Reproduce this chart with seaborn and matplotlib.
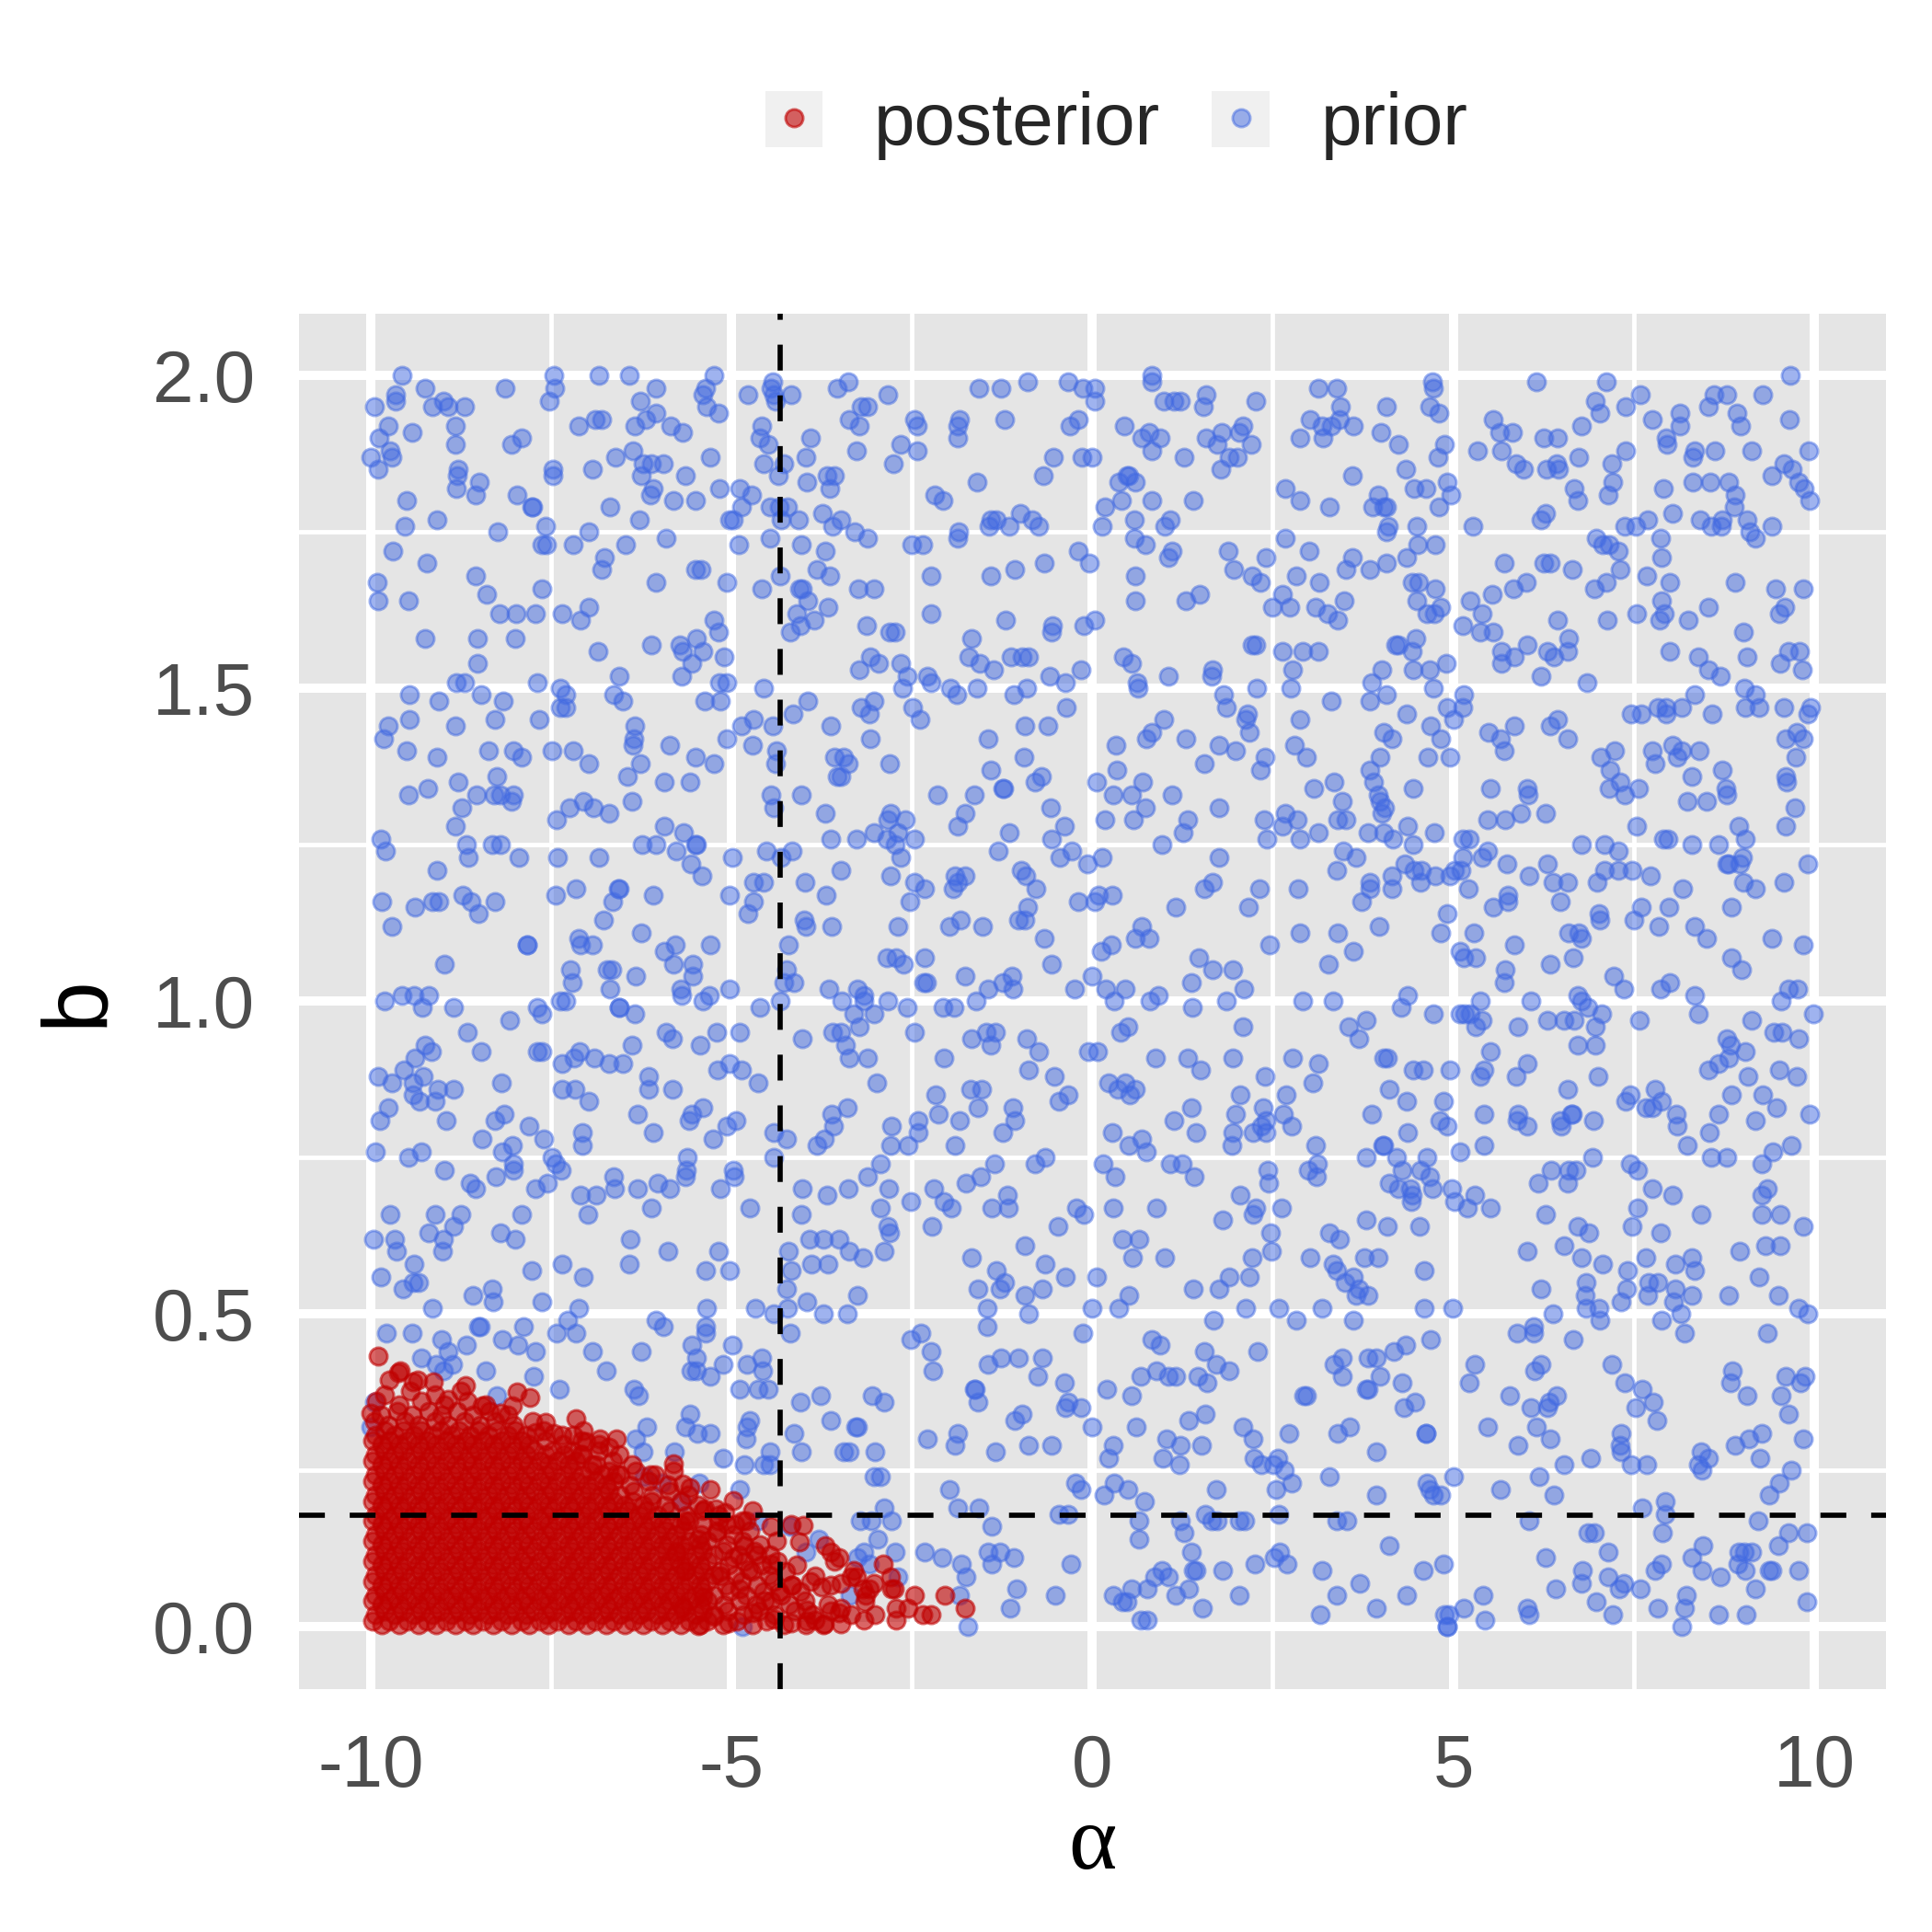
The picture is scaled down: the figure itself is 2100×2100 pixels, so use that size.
import matplotlib
matplotlib.use("Agg")
import matplotlib.pyplot as plt
import pandas as pd
import seaborn as sns
from matplotlib.lines import Line2D
from matplotlib.patches import Patch
from matplotlib.legend_handler import HandlerTuple
from matplotlib.ticker import MultipleLocator

# ---- data ----
# prior draws (alpha, b)
prior_alpha = [
    # top-left block
    -9.56,-8.14,-7.46,-7.45,-7.53,-6.84,-6.42,-6.04,-6.26,-5.24,
    -5.36,-5.39,-5.34,-5.18,-9.65,-9.65,-9.95,-9.25,-9.14,-8.99,
    -8.92,-8.70,-9.75,-9.42,-8.83,-9.88,-9.73,-9.71,-10.0,-9.90,
    -8.82,-8.78,-8.80,-8.49,-8.81,-8.55,-8.05,-7.91,-7.12,-6.89,
    -6.80,-7.47,-7.47,-6.93,-6.61,-6.34,-6.19,-6.04,-5.84,-5.67,
    -6.36,-6.22,-6.11,-5.95,-6.25,-6.09,-6.12,-5.64,-5.29,-5.80,
    -5.50,-5.16,-9.50,-9.52,-9.08,-7.97,-7.77,-7.75,-8.24,-7.58,
    -7.62,-7.56,-7.19,-6.98,-6.68,-6.28,-5.90,-6.46,-6.76,-6.80,
    -9.69,-9.22,-9.91,-9.89,-9.48,-8.54,-8.39,-8.21,-7.98,-7.71,
    -7.63,-7.34,-7.09,-6.98,-6.05,-5.50,-5.42,-5.07,-5.24,-5.18,
    -5.48,-5.72,-5.68,-5.40,-5.10,-6.11,-6.85,-9.24,-8.52,-8.00,
    -8.52,-8.81,-8.70,-7.69,-6.55,-5.55,-5.69,-5.16,-5.07,-9.46,
    -9.06,-8.47,-8.16,-7.37,-7.29,-7.37,-7.30,-6.63,-6.51,-5.37,
    -5.15,-9.75,-9.46,-9.82,-8.83,-8.28,-7.66,-9.50,-9.08,-8.37,
    -8.02,-7.91,-7.48,-7.19,-6.98,-6.34,-6.35,-6.36,-5.86,-6.26,
    -6.44,-5.50,-5.24,-5.07,-8.78,-8.25,-9.21,-5.93,-5.57,-4.77,
    -4.43,-4.45,-4.41,-4.39,-4.17,-3.54,-4.58,-4.61,-4.49,-3.91,
    -4.27,-4.55,-4.35,-3.97,-3.95,-3.68,-3.57,-3.64,-4.89,-4.72,
    -4.86,-4.46,-4.34,-4.22,-4.31,-4.07,-3.74,-3.60,-5.02,-4.98,
    -4.90,-4.47,-4.03,-3.70,-3.81,-3.64,-4.33,-4.58,-4.06,-4.02,
    -3.94,-3.66,-4.10,-4.18,-4.04,-3.85,-4.55,-3.94,-4.15,-4.43,
    -4.86,-4.69,-3.62,-4.71,-4.37,-4.39,-3.57,-3.53,
    # top-middle block
    -3.38,-2.84,-3.20,-3.12,-3.37,-3.23,-3.27,-2.76,-2.66,-2.47,
    -2.43,-2.42,-1.84,-1.86,-1.87,-1.57,-1.26,-0.90,-1.21,-0.34,
    -0.13,0.04,0.03,-0.31,-0.20,-0.54,-0.15,0.00,-0.68,-1.60,
    -2.19,-2.07,-3.49,-3.29,-3.12,-1.40,-1.43,-1.33,-1.15,-1.00,
    -0.83,-0.74,-2.50,-2.35,-1.85,-1.87,-0.19,-0.04,-0.67,-1.07,
    -1.40,-2.23,-3.24,-3.03,-2.23,-1.20,-3.13,-2.81,-2.73,-0.55,
    -0.57,-0.12,0.04,-3.07,-2.96,-3.23,-2.66,-1.67,-1.71,-1.56,
    -1.37,-1.12,-0.97,-0.88,-0.59,-0.16,-0.37,-2.56,-2.29,-2.23,
    -1.97,-1.88,-1.60,-1.09,-0.91,-2.63,-0.36,-3.20,-3.02,-3.09,
    -2.49,-2.39,-3.07,-1.44,-0.93,-0.61,-0.95,-1.41,-3.45,-3.38,
    -2.81,-3.49,-0.79,-0.70,-1.23,0.06,0.82,0.82,0.99,1.13,
    1.22,1.58,1.54,2.26,0.44,0.69,0.79,0.94,0.83,1.27,
    1.58,1.73,1.79,2.08,2.03,2.20,1.78,1.90,2.01,0.48,
    0.50,0.37,0.59,0.40,0.82,1.40,0.18,0.13,0.58,1.08,
    1.00,0.58,0.74,1.10,1.05,0.60,0.59,1.29,1.49,1.88,
    1.96,2.21,2.33,2.40,0.43,0.55,0.62,0.63,1.05,1.66,
    1.65,2.21,2.27,2.28,1.82,1.86,2.15,2.12,2.17,0.99,
    0.82,0.75,1.29,0.33,0.34,0.70,1.55,1.76,1.99,2.39,
    2.33,3.13,3.02,3.18,3.20,2.87,2.67,2.87,2.67,3.00,
    2.82,3.15,2.64,2.74,2.50,3.09,2.63,2.91,3.13,2.78,
    2.75,2.87,2.80,2.97,3.07,
    # top-right block
    3.38,3.44,3.42,3.31,3.62,4.07,4.71,4.72,4.67,4.80,
    4.00,4.24,4.88,4.79,3.60,4.34,4.46,4.62,4.92,4.97,
    4.80,3.29,3.96,3.88,4.03,4.07,4.10,4.08,4.49,4.51,
    4.75,4.36,4.08,3.85,3.60,3.51,3.49,3.26,3.40,4.43,
    4.52,4.75,4.50,4.63,4.74,4.82,4.48,4.20,4.24,4.43,
    4.44,4.67,4.90,4.01,3.87,4.07,3.85,3.31,4.73,4.91,
    5.14,5.13,5.00,4.36,4.03,4.15,4.69,4.82,4.96,4.65,
    3.99,3.85,3.35,3.89,4.45,6.15,7.12,6.97,7.03,7.39,
    5.55,5.64,5.82,5.34,5.67,6.25,6.45,6.77,6.74,7.20,
    7.39,5.87,5.97,6.29,6.43,6.46,6.67,6.72,7.21,7.14,
    5.27,6.22,6.28,6.98,7.07,7.16,7.29,7.38,7.53,5.70,
    6.25,6.34,6.65,7.31,7.12,6.95,5.83,6.01,5.23,5.54,
    5.40,5.13,5.38,5.55,6.44,7.13,6.02,5.67,5.85,5.67,
    6.30,6.40,6.59,6.60,6.21,6.85,5.49,5.65,5.84,5.71,
    6.34,6.45,6.58,7.05,7.23,7.17,7.31,5.52,6.03,7.16,
    7.59,7.76,8.14,8.14,8.53,8.61,8.79,8.93,8.98,9.29,
    9.67,9.66,7.95,7.96,8.34,8.32,8.63,9.14,9.92,9.58,
    9.69,9.41,9.79,9.86,9.94,7.91,8.32,8.56,8.81,8.91,
    8.89,8.04,7.69,8.42,8.57,8.71,8.73,9.07,9.11,9.18,
    9.42,7.87,7.89,7.68,8.00,8.91,9.47,9.85,7.88,7.92,
    7.86,7.54,8.26,8.54,9.52,9.59,9.02,8.00,8.40,9.07,
    8.54,8.70,9.53,9.64,9.80,9.84,8.35,9.03,9.19,9.23,
    9.05,8.59,8.16,7.84,7.95,7.95,7.47,7.60,9.58,9.95,
    9.91,9.76,9.61,9.85,9.74,7.76,8.04,8.16,8.10,7.79,
    8.41,8.73,8.30,9.61,9.62,7.57,8.78,
    # middle-left block
    -9.47,-8.73,-8.53,-8.29,-8.20,-8.02,-8.05,-8.82,-9.86,-9.79,
    -8.67,-8.64,-8.32,-8.20,-7.95,-9.08,-9.85,-9.38,-9.14,-9.05,
    -8.72,-8.61,-8.50,-8.28,-9.71,-7.83,-7.83,-8.98,-9.56,-9.40,
    -9.20,-9.80,-9.28,-8.85,-8.07,-7.69,-7.63,-8.66,-9.25,-9.16,
    -9.38,-8.47,-7.69,-7.62,-9.54,-9.89,-9.71,-9.41,-9.27,-9.07,
    -8.85,-8.19,-9.41,-9.32,-9.11,-9.76,-9.87,-8.95,-8.28,-8.15,
    -8.45,-7.80,-8.04,-8.18,-9.93,-9.48,-9.29,-8.98,-8.62,-8.55,
    -8.26,-8.02,-8.02,-9.73,-9.10,-8.75,-7.91,-7.42,-7.25,-7.05,
    -6.91,-6.69,-6.38,-5.93,-5.66,-6.24,-6.05,-5.76,-5.50,-5.48,
    -7.41,-6.83,-5.56,-5.41,-7.43,-7.16,-6.55,-6.57,-6.65,-6.08,
    -6.77,-6.25,-7.12,-7.09,-6.92,-5.93,-5.78,-5.29,-7.23,-7.21,
    -6.72,-6.66,-6.33,-5.80,-5.54,-5.53,-6.68,-5.70,-5.69,-5.40,
    -5.31,-5.03,-7.37,-7.30,-6.55,-6.55,-6.34,-5.91,-5.82,-5.44,
    -5.20,-4.88,-6.38,-7.10,-7.18,-6.90,-7.34,-6.69,-6.51,-5.19,
    -5.02,-4.86,-6.15,-6.15,-5.81,-7.35,-7.17,-6.98,-5.40,-5.55,
    -5.59,-6.30,-6.09,-7.07,-7.06,-7.60,-7.48,-7.44,-7.36,-5.25,
    -5.07,-4.94,-5.61,-5.64,-5.63,-6.63,-6.62,-6.30,-6.02,-5.86,
    -7.09,-6.87,-7.55,-7.71,-6.99,-6.11,-5.15,-4.98,-4.96,-4.45,
    -4.41,-4.03,-3.70,-3.63,-4.99,-4.52,-4.31,-4.16,-5.02,-4.70,
    -4.56,-4.70,-4.77,-3.98,-3.69,-4.00,-3.97,-3.61,-4.21,-4.24,
    -4.28,-4.14,-3.65,-4.33,-4.61,-4.02,-3.60,-4.63,-3.61,-3.59,
    -3.71,-3.81,-4.41,-4.23,-4.41,-4.02,-3.67,-4.74,-4.03,
    # centre block
    -2.15,-1.63,-1.24,-0.58,0.29,0.55,0.74,1.11,1.76,0.17,
    0.57,1.32,1.26,0.97,2.38,2.63,2.67,2.84,2.87,3.13,
    2.42,-3.03,-2.85,-2.83,-2.79,-2.69,-2.59,-2.73,-2.66,-3.27,
    -2.47,-3.49,-2.79,-2.47,-2.32,-2.53,-1.86,-1.76,-1.15,-0.56,
    -0.39,-1.31,-0.28,-0.45,-0.07,0.14,-0.98,-0.92,-0.78,-1.90,
    -1.86,-1.76,-1.93,-0.19,0.04,0.09,0.28,-0.90,-1.98,-1.83,
    -1.52,-1.03,-0.93,-2.69,-0.67,0.26,0.12,-2.85,-2.72,-2.62,
    -2.32,-0.56,-2.34,-2.30,-1.76,-1.44,-1.24,-1.11,-1.10,-0.25,
    0.00,0.19,0.45,-3.25,-3.16,-3.16,-3.47,-2.84,-2.57,-2.07,
    -1.91,-1.61,-3.31,-3.03,-3.23,-3.49,-3.42,-3.37,-3.11,-2.46,
    -1.67,-1.47,-1.34,-1.40,-0.91,-0.74,-2.05,-0.89,-0.53,-0.05,
    0.07,0.30,0.39,0.49,0.80,0.91,1.38,1.37,1.48,1.67,
    1.94,2.10,1.86,2.09,0.59,0.69,0.78,1.15,1.55,1.66,
    1.75,2.32,2.16,2.85,2.87,2.46,2.91,0.87,1.32,1.50,
    1.94,2.77,3.13,2.39,3.06,0.23,0.45,0.35,0.60,0.52,
    -0.46,-0.33,-1.69,-1.53,-2.17,-1.59,-1.10,-2.99,-3.39,-2.13,
    -1.84,-1.07,-1.24,-2.78,-2.41,-2.41,-2.80,-2.55,-1.90,2.05,
    2.36,2.69,1.98,2.41,2.34,2.23,2.40,2.65,2.76,1.94,
    1.93,1.37,1.13,1.44,0.27,0.50,0.69,0.75,3.09,3.12,
    2.99,3.11,2.43,2.44,1.08,1.24,1.41,0.15,0.32,-0.79,
    -0.65,-1.35,-1.55,-1.75,-2.20,-2.93,-3.12,-2.82,-3.38,-2.93,
    -2.52,-2.06,-1.95,-1.18,-1.16,-1.39,-0.22,-0.12,0.29,0.89,
    2.05,2.27,2.23,2.62,
    # middle-right block
    3.46,3.40,3.51,3.96,3.98,4.05,4.01,3.82,4.03,4.16,
    4.37,4.45,4.74,3.48,3.65,3.39,4.33,4.46,4.56,4.75,
    4.55,4.15,4.15,3.84,3.85,3.73,4.96,5.02,5.11,5.13,
    5.21,4.91,4.82,3.40,3.97,3.61,3.27,3.33,4.37,4.28,
    4.73,5.13,5.22,5.47,5.72,5.94,6.04,6.28,7.38,5.47,
    5.40,5.74,6.05,6.30,6.38,6.59,6.78,7.10,7.28,7.09,
    7.29,7.48,6.99,7.54,5.76,5.76,5.55,6.48,7.02,7.03,
    7.50,7.60,7.73,5.29,5.85,6.60,6.74,6.77,6.66,5.09,
    5.14,5.31,6.34,5.72,5.71,7.22,7.36,6.08,6.72,6.78,
    6.86,7.06,5.38,5.09,5.16,5.23,5.40,5.31,5.90,6.30,
    6.54,6.67,6.97,6.73,6.97,7.58,7.91,7.97,8.24,8.51,
    8.79,8.30,8.68,8.81,8.79,8.97,9.01,9.02,9.19,8.95,
    9.05,9.60,9.73,9.91,9.58,8.18,7.99,7.85,8.34,8.51,
    8.85,9.41,9.85,8.86,8.99,7.87,8.00,8.34,8.39,9.54,
    9.64,9.77,9.99,9.14,9.44,9.55,9.78,8.79,8.84,8.81,
    9.05,8.67,8.54,9.08,9.52,9.76,8.86,9.29,9.48,9.94,
    7.80,7.45,7.39,7.67,7.76,7.88,8.09,8.10,8.68,8.55,
    9.19,8.24,8.57,8.79,9.43,9.68,9.27,9.35,9.28,9.53,
    9.28,7.45,7.56,7.76,8.04,7.56,8.43,7.01,6.59,6.94,
    6.65,6.64,6.48,6.50,5.90,5.89,6.02,5.42,5.42,5.09,
    6.03,5.87,5.52,4.96,5.37,5.42,6.93,6.35,6.18,6.60,
    6.70,6.58,6.28,5.30,5.19,5.52,4.98,5.02,3.55,3.69,
    3.80,4.04,4.09,4.44,4.59,4.11,4.36,4.87,3.87,4.81,
    4.91,4.37,4.02,4.03,3.80,4.21,4.64,4.29,4.54,4.67,
    4.11,4.24,4.41,4.43,4.42,4.71,
    # bottom-middle block
    -2.83,-2.81,-2.22,-0.47,1.80,-3.51,-3.37,-3.18,-2.88,-3.26,
    -3.40,-0.94,-1.67,-1.33,-1.22,-1.28,-1.59,-1.46,-1.46,-0.93,
    -0.89,-0.69,-0.65,-0.38,0.06,0.00,0.41,0.64,0.56,1.00,
    0.51,0.36,1.40,1.76,1.89,2.17,2.21,2.47,2.48,2.13,
    2.58,3.02,3.18,2.83,1.68,2.29,-2.52,-2.38,-2.23,-2.21,
    -0.13,0.83,0.94,1.55,-1.45,-1.26,-1.02,-0.69,-0.75,-0.39,
    -1.62,-1.58,-1.63,-3.05,-2.88,-0.97,-1.07,-0.34,-0.38,-0.16,
    -0.01,0.20,0.54,0.67,0.89,1.05,1.15,1.46,1.59,1.71,
    1.90,2.93,2.96,1.33,1.56,0.61,1.03,1.22,1.51,0.98,
    1.21,2.09,2.22,2.72,2.24,2.34,2.57,2.51,2.66,2.76,
    2.55,1.71,-3.28,-3.26,-3.45,-3.37,-3.01,-2.28,-1.87,-1.90,
    -1.34,-0.89,-0.56,0.29,0.23,-3.02,-2.93,-1.98,-1.87,-1.57,
    -2.88,-0.24,-0.16,0.30,0.49,0.72,0.16,-0.33,-0.46,0.65,
    0.65,1.22,1.56,1.65,1.73,2.03,2.11,2.58,-3.22,-3.06,
    -2.78,-1.39,1.27,1.37,1.40,1.43,1.81,2.25,2.52,2.60,
    2.70,3.18,2.03,3.16,1.53,1.33,1.15,1.05,0.97,0.86,
    0.76,0.54,0.29,0.42,0.48,0.67,0.76,-0.30,-0.52,-1.05,
    -1.14,-1.09,-1.44,-1.28,-1.39,-2.33,-2.08,-1.82,-1.75,-1.84,
    -1.73,-2.73,-2.98,-3.25,-3.16,-3.09,-2.70,-3.36,
    # bottom-right block
    3.79,4.09,4.53,3.29,3.43,3.33,3.39,3.62,3.50,3.69,
    3.65,3.82,3.77,3.96,4.60,4.60,4.99,3.61,4.68,4.34,
    4.17,3.46,3.35,3.82,3.94,3.46,3.99,4.29,3.80,3.82,
    4.32,4.47,3.40,3.57,4.62,4.62,3.94,3.29,3.94,4.64,
    4.67,4.72,4.82,5.00,3.39,3.53,4.11,4.59,4.86,3.70,
    3.38,4.35,3.93,4.88,4.94,4.91,4.92,5.15,5.41,5.44,
    6.02,6.53,6.72,6.88,6.78,7.07,6.21,6.38,6.84,6.83,
    6.84,7.02,7.03,7.33,7.40,7.41,7.48,5.89,6.11,6.11,
    6.66,5.30,5.22,6.12,6.21,7.20,7.37,5.78,6.07,6.30,
    6.33,6.43,6.15,5.48,6.34,5.90,6.53,6.90,7.33,7.31,
    7.33,7.46,6.19,6.40,5.66,6.05,6.86,6.95,6.28,7.15,
    6.79,6.77,7.15,7.36,7.30,6.42,6.98,7.21,6.03,6.05,
    7.67,7.87,8.08,8.30,8.34,7.71,7.83,7.69,8.08,8.05,
    8.30,8.15,7.88,8.20,8.82,8.97,9.23,9.32,9.53,9.85,
    9.51,9.78,9.91,9.35,8.87,8.84,9.07,9.61,9.81,9.87,
    9.54,9.65,7.62,7.77,7.53,7.82,8.91,9.10,9.27,9.85,
    9.25,8.43,8.39,8.54,8.45,7.68,9.68,9.52,9.38,7.62,
    7.94,7.93,7.90,9.22,9.64,9.90,8.46,8.30,7.89,7.80,
    8.44,8.70,8.96,9.03,9.13,8.94,9.05,9.38,9.41,9.51,
    9.79,9.18,9.90,7.59,8.23,8.21,7.84,8.16,8.68,9.06,
    # bottom-left block
    -9.96,-9.67,-9.64,-9.86,-9.40,-9.41,-9.33,-9.55,-9.20,-8.99,
    -8.85,-9.00,-9.14,-8.58,-8.31,-8.30,-8.20,-7.99,-7.77,-7.62,
    -7.35,-7.05,-7.11,-7.27,-7.16,-7.42,-6.40,-6.42,-5.88,-5.18,
    -5.36,-5.02,-5.34,-5.36,-5.36,-6.05,-5.95,-5.55,-4.99,-5.49,
    -5.56,-5.49,-5.30,-5.12,-4.78,-4.58,-4.57,-4.88,-4.63,-4.49,
    -4.67,-4.41,-4.22,-4.24,-4.19,-4.21,-4.17,-3.89,-3.66,-3.92,
    -3.72,-3.95,-3.72,-4.05,-3.77,-3.62,-4.13,-4.03,-5.57,-5.64,
    -5.47,-5.29,-4.79,-4.75,-4.80,-4.46,-4.55,-4.47,-4.82,-5.11,
    -5.79,-6.17,-6.33,-6.23,-6.25,-6.35,-6.29,-6.73,-6.93,-7.38,
    -7.72,-7.74,-7.88,-7.96,-8.17,-8.40,-8.25,-8.50,-8.48,-8.67,
    -9.01,-8.92,-8.86,-9.09,-9.30,-8.99,-9.42,-9.78,-10.0,-9.94,
    -5.45,-4.89,-6.21,-5.97,-5.69,-4.63,-4.19,-3.79,-3.97,-4.85,
]
prior_b = [
    # top-left block
    2.00,1.98,2.00,1.98,1.96,2.00,2.00,1.98,1.96,2.00,
    1.98,1.97,1.95,1.94,1.97,1.96,1.95,1.98,1.95,1.96,
    1.95,1.95,1.92,1.91,1.92,1.90,1.88,1.87,1.87,1.85,
    1.89,1.85,1.84,1.83,1.82,1.81,1.89,1.90,1.92,1.93,
    1.93,1.85,1.84,1.85,1.87,1.92,1.93,1.94,1.92,1.91,
    1.88,1.86,1.86,1.86,1.84,1.82,1.81,1.84,1.87,1.80,
    1.80,1.82,1.80,1.76,1.77,1.81,1.79,1.79,1.75,1.76,
    1.73,1.73,1.73,1.75,1.79,1.77,1.74,1.73,1.71,1.69,
    1.72,1.70,1.67,1.64,1.64,1.68,1.65,1.62,1.62,1.62,
    1.66,1.62,1.61,1.63,1.67,1.69,1.69,1.67,1.61,1.59,
    1.58,1.57,1.56,1.56,1.55,1.57,1.56,1.58,1.58,1.58,
    1.54,1.51,1.51,1.51,1.52,1.54,1.52,1.51,1.51,1.49,
    1.48,1.49,1.48,1.50,1.49,1.47,1.47,1.49,1.48,1.48,
    1.48,1.44,1.45,1.42,1.44,1.45,1.45,1.40,1.39,1.40,
    1.40,1.39,1.40,1.40,1.38,1.44,1.42,1.41,1.41,1.38,
    1.36,1.39,1.38,1.42,1.35,1.36,1.34,1.35,1.35,1.97,
    1.99,1.98,1.97,1.96,1.97,1.98,1.92,1.90,1.89,1.90,
    1.86,1.86,1.84,1.87,1.83,1.84,1.84,1.82,1.82,1.81,
    1.79,1.79,1.79,1.79,1.77,1.77,1.78,1.76,1.77,1.77,
    1.73,1.74,1.73,1.72,1.69,1.68,1.68,1.66,1.66,1.66,
    1.64,1.63,1.62,1.59,1.60,1.61,1.50,1.48,1.46,1.44,
    1.44,1.45,1.44,1.41,1.40,1.38,1.39,1.36,
    # top-middle block
    1.99,1.97,1.95,1.95,1.93,1.92,1.88,1.86,1.89,1.93,
    1.92,1.88,1.93,1.92,1.90,1.98,1.98,1.99,1.93,1.99,
    1.98,1.98,1.96,1.92,1.93,1.87,1.87,1.87,1.84,1.83,
    1.81,1.80,1.77,1.75,1.74,1.77,1.76,1.77,1.76,1.78,
    1.77,1.76,1.73,1.73,1.75,1.74,1.72,1.70,1.70,1.69,
    1.68,1.68,1.66,1.66,1.62,1.61,1.60,1.59,1.59,1.60,
    1.59,1.60,1.61,1.55,1.54,1.53,1.54,1.58,1.55,1.54,
    1.53,1.55,1.55,1.55,1.52,1.53,1.51,1.52,1.52,1.51,
    1.50,1.49,1.50,1.49,1.50,1.50,1.47,1.47,1.48,1.46,
    1.47,1.45,1.42,1.42,1.44,1.44,1.39,1.37,1.39,1.38,
    1.38,1.36,1.35,1.36,1.34,1.35,2.00,1.99,1.96,1.96,
    1.96,1.97,1.95,1.96,1.92,1.90,1.91,1.90,1.88,1.87,
    1.90,1.89,1.91,1.92,1.91,1.89,1.85,1.87,1.87,1.84,
    1.84,1.83,1.83,1.80,1.80,1.80,1.79,1.76,1.77,1.77,
    1.76,1.74,1.73,1.72,1.71,1.68,1.64,1.64,1.65,1.72,
    1.69,1.68,1.67,1.71,1.55,1.54,1.51,1.50,1.52,1.53,
    1.52,1.57,1.57,1.50,1.49,1.47,1.46,1.45,1.43,1.45,
    1.43,1.42,1.42,1.41,1.37,1.35,1.38,1.41,1.40,1.39,
    1.37,1.98,1.93,1.92,1.90,1.90,1.82,1.80,1.74,1.72,
    1.68,1.67,1.65,1.63,1.63,1.63,1.56,1.56,1.56,1.53,
    1.50,1.45,1.41,1.39,1.34,
    # top-right block
    1.98,1.95,1.93,1.92,1.92,1.95,1.99,1.98,1.95,1.94,
    1.91,1.89,1.89,1.87,1.84,1.85,1.82,1.82,1.83,1.81,
    1.79,1.79,1.81,1.79,1.79,1.79,1.76,1.75,1.76,1.73,
    1.73,1.71,1.70,1.69,1.71,1.69,1.64,1.62,1.61,1.67,
    1.67,1.66,1.64,1.62,1.62,1.63,1.58,1.57,1.57,1.56,
    1.53,1.53,1.54,1.53,1.51,1.49,1.48,1.48,1.50,1.47,
    1.49,1.47,1.45,1.46,1.43,1.42,1.44,1.42,1.39,1.39,
    1.39,1.37,1.35,1.35,1.34,1.99,1.99,1.96,1.94,1.95,
    1.93,1.91,1.91,1.88,1.88,1.90,1.90,1.92,1.87,1.86,
    1.88,1.86,1.85,1.85,1.86,1.85,1.82,1.80,1.83,1.81,
    1.76,1.77,1.78,1.74,1.73,1.73,1.72,1.76,1.76,1.70,
    1.70,1.70,1.69,1.69,1.67,1.66,1.66,1.67,1.64,1.65,
    1.62,1.60,1.59,1.59,1.61,1.61,1.57,1.56,1.55,1.54,
    1.56,1.55,1.56,1.58,1.52,1.51,1.43,1.42,1.44,1.40,
    1.44,1.45,1.42,1.39,1.40,1.37,1.35,1.34,1.34,1.34,
    1.97,1.93,1.94,1.92,1.95,1.97,1.97,1.94,1.92,1.97,
    2.00,1.93,1.90,1.89,1.88,1.87,1.88,1.88,1.88,1.86,
    1.85,1.84,1.83,1.82,1.80,1.82,1.83,1.83,1.83,1.81,
    1.79,1.78,1.77,1.77,1.76,1.76,1.77,1.77,1.75,1.74,
    1.76,1.74,1.71,1.68,1.67,1.67,1.66,1.66,1.64,1.62,
    1.61,1.62,1.61,1.63,1.62,1.63,1.59,1.56,1.55,1.55,
    1.53,1.52,1.54,1.56,1.56,1.53,1.49,1.50,1.49,1.47,
    1.47,1.46,1.47,1.47,1.47,1.46,1.46,1.46,1.47,1.47,
    1.46,1.43,1.42,1.42,1.39,1.40,1.41,1.40,1.39,1.38,
    1.40,1.37,1.36,1.36,1.35,1.34,1.34,
    # middle-left block
    1.33,1.31,1.33,1.33,1.33,1.33,1.32,1.28,1.26,1.24,
    1.25,1.23,1.25,1.25,1.23,1.21,1.16,1.15,1.16,1.16,
    1.17,1.16,1.14,1.16,1.12,1.09,1.09,1.06,1.01,1.01,
    1.01,1.00,0.99,0.99,0.97,0.99,0.98,0.95,0.93,0.92,
    0.91,0.92,0.92,0.92,0.89,0.88,0.87,0.87,0.88,0.86,
    0.86,0.87,0.85,0.84,0.84,0.83,0.81,0.81,0.81,0.82,
    0.78,0.80,0.77,0.76,0.76,0.75,0.76,0.73,0.71,0.70,
    0.72,0.74,0.73,0.66,0.66,0.66,0.66,1.29,1.31,1.32,
    1.31,1.30,1.32,1.28,1.27,1.25,1.25,1.24,1.25,1.25,
    1.23,1.23,1.22,1.20,1.17,1.18,1.18,1.18,1.16,1.17,
    1.13,1.11,1.10,1.09,1.09,1.08,1.09,1.09,1.05,1.03,
    1.05,1.05,1.04,1.06,1.06,1.04,1.02,1.02,1.01,1.00,
    1.01,1.02,1.00,1.00,0.99,0.99,0.98,0.95,0.94,0.93,
    0.95,0.95,0.93,0.92,0.91,0.91,0.90,0.90,0.90,0.89,
    0.90,0.89,0.88,0.86,0.86,0.86,0.86,0.84,0.83,0.82,
    0.81,0.82,0.79,0.79,0.77,0.78,0.75,0.74,0.73,0.78,
    0.80,0.81,0.75,0.72,0.73,0.72,0.70,0.70,0.71,0.70,
    0.69,0.69,0.71,0.70,0.66,0.67,0.70,0.73,0.72,1.33,
    1.31,1.33,1.30,1.26,1.23,1.24,1.23,1.24,1.17,1.19,
    1.19,1.16,1.14,1.19,1.17,1.13,1.12,1.12,1.09,1.05,
    1.03,1.03,1.02,1.00,0.99,0.94,0.95,0.87,0.82,0.80,
    0.78,0.77,0.79,0.78,0.75,0.70,0.69,0.67,0.66,
    # centre block
    1.33,1.33,1.34,1.31,1.33,1.33,1.31,1.33,1.31,1.29,
    1.29,1.29,1.27,1.25,1.29,1.28,1.30,1.29,1.26,1.27,
    1.26,1.27,1.26,1.29,1.30,1.27,1.29,1.25,1.23,1.26,
    1.26,1.21,1.20,1.19,1.18,1.16,1.28,1.30,1.27,1.26,
    1.28,1.24,1.24,1.23,1.22,1.23,1.21,1.20,1.18,1.20,
    1.19,1.20,1.18,1.16,1.16,1.17,1.17,1.15,1.12,1.13,
    1.12,1.13,1.13,1.12,1.10,1.09,1.08,1.07,1.07,1.06,
    1.07,1.06,1.03,1.03,1.04,1.02,1.03,1.04,1.02,1.02,
    1.04,1.02,1.02,1.02,1.01,1.00,1.00,1.00,0.99,0.99,
    0.99,1.00,0.98,0.98,0.96,0.95,0.93,0.91,0.91,0.95,
    0.94,0.95,0.95,0.93,0.94,0.92,0.91,0.89,0.88,0.92,
    0.92,1.00,0.95,0.96,1.00,1.01,0.99,1.03,1.07,1.05,
    1.05,1.02,1.00,0.96,1.10,1.12,1.10,1.15,1.18,1.19,
    1.23,1.18,1.15,1.18,1.11,1.09,1.00,0.91,0.91,0.89,
    0.91,0.91,0.90,0.88,0.87,0.87,0.87,0.86,0.86,0.85,
    0.84,0.85,0.86,0.86,0.85,0.83,0.83,0.87,0.83,0.82,
    0.81,0.81,0.79,0.80,0.81,0.79,0.77,0.77,0.77,0.85,
    0.83,0.85,0.82,0.81,0.80,0.79,0.79,0.82,0.80,0.79,
    0.77,0.83,0.81,0.79,0.79,0.77,0.78,0.76,0.77,0.74,
    0.73,0.72,0.73,0.71,0.74,0.74,0.72,0.74,0.72,0.74,
    0.75,0.74,0.72,0.71,0.70,0.74,0.72,0.70,0.70,0.67,
    0.68,0.68,0.67,0.69,0.67,0.67,0.67,0.66,0.67,0.67,
    0.69,0.67,0.66,0.67,
    # middle-right block
    1.32,1.29,1.29,1.33,1.32,1.31,1.30,1.27,1.27,1.26,
    1.28,1.25,1.27,1.24,1.23,1.21,1.22,1.21,1.21,1.20,
    1.19,1.20,1.18,1.19,1.18,1.16,1.20,1.21,1.21,1.23,
    1.18,1.14,1.11,1.11,1.12,1.08,1.06,1.00,1.01,0.99,
    0.98,1.26,1.26,1.29,1.29,1.30,1.33,1.30,1.33,1.24,
    1.23,1.22,1.20,1.22,1.19,1.19,1.25,1.25,1.24,1.21,
    1.21,1.21,1.19,1.28,1.17,1.16,1.15,1.16,1.14,1.13,
    1.13,1.15,1.20,1.11,1.09,1.11,1.11,1.10,1.07,1.08,
    1.07,1.07,1.06,1.05,1.03,1.04,1.02,1.00,1.01,1.00,
    0.99,0.98,1.00,0.98,0.98,0.98,0.97,0.96,0.96,0.97,
    0.97,0.97,0.96,0.93,0.93,0.97,1.26,1.26,1.32,1.32,
    1.33,1.25,1.25,1.22,1.22,1.22,1.23,1.19,1.18,1.28,
    1.26,1.28,1.31,1.22,1.19,1.18,1.15,1.12,1.12,1.10,
    1.15,1.10,1.09,1.07,1.05,1.02,1.03,1.01,0.98,1.00,
    1.02,1.02,0.98,0.97,0.95,0.95,0.94,0.94,0.93,0.91,
    0.92,0.90,0.89,0.88,0.89,0.88,0.85,0.85,0.83,0.82,
    0.86,0.85,0.84,0.83,0.83,0.84,0.82,0.80,0.82,0.79,
    0.81,0.77,0.75,0.75,0.76,0.77,0.74,0.70,0.69,0.66,
    0.66,0.74,0.73,0.70,0.69,0.67,0.66,0.88,0.86,0.81,
    0.82,0.82,0.81,0.80,0.82,0.81,0.80,0.82,0.77,0.76,
    0.90,0.88,0.92,0.89,0.88,0.89,0.75,0.73,0.71,0.73,
    0.73,0.71,0.66,0.69,0.67,0.67,0.70,0.68,0.96,0.94,
    0.97,0.91,0.91,0.89,0.89,0.86,0.84,0.84,0.82,0.81,
    0.80,0.79,0.77,0.77,0.75,0.75,0.75,0.73,0.73,0.72,
    0.71,0.70,0.70,0.69,0.68,0.70,
    # bottom-middle block
    0.64,0.63,0.64,0.64,0.65,0.62,0.60,0.59,0.60,0.53,
    0.50,0.61,0.59,0.57,0.55,0.54,0.54,0.51,0.48,0.53,
    0.50,0.54,0.58,0.56,0.56,0.51,0.62,0.62,0.59,0.59,
    0.53,0.51,0.54,0.54,0.56,0.56,0.59,0.63,0.60,0.51,
    0.51,0.59,0.51,0.49,0.49,0.44,0.46,0.47,0.44,0.41,
    0.47,0.46,0.45,0.44,0.42,0.43,0.43,0.43,0.40,0.39,
    0.38,0.36,0.38,0.37,0.36,0.34,0.33,0.36,0.35,0.35,
    0.32,0.38,0.37,0.40,0.41,0.40,0.40,0.40,0.39,0.42,
    0.41,0.37,0.37,0.33,0.34,0.32,0.30,0.29,0.29,0.27,
    0.26,0.32,0.30,0.31,0.27,0.26,0.27,0.26,0.25,0.23,
    0.22,0.22,0.32,0.32,0.28,0.28,0.28,0.30,0.31,0.29,
    0.28,0.29,0.29,0.29,0.27,0.24,0.24,0.22,0.19,0.19,
    0.19,0.23,0.22,0.23,0.22,0.20,0.21,0.18,0.18,0.17,
    0.14,0.17,0.18,0.17,0.17,0.17,0.17,0.18,0.17,0.17,
    0.17,0.16,0.15,0.12,0.09,0.09,0.09,0.10,0.11,0.12,
    0.10,0.09,0.05,0.02,0.03,0.06,0.05,0.08,0.09,0.08,
    0.06,0.06,0.05,0.04,0.04,0.01,0.01,0.10,0.05,0.06,
    0.03,0.11,0.12,0.12,0.10,0.12,0.11,0.10,0.08,0.05,
    0.00,0.12,0.14,0.11,0.12,0.10,0.08,0.05,
    # bottom-right block
    0.65,0.64,0.64,0.63,0.62,0.58,0.57,0.56,0.55,0.54,
    0.53,0.53,0.59,0.59,0.57,0.51,0.51,0.49,0.46,0.45,
    0.44,0.43,0.42,0.43,0.43,0.40,0.40,0.39,0.38,0.38,
    0.35,0.36,0.31,0.32,0.31,0.31,0.28,0.24,0.21,0.23,
    0.22,0.21,0.21,0.24,0.17,0.17,0.13,0.09,0.10,0.07,
    0.05,0.05,0.03,0.02,0.02,0.00,0.00,0.03,0.05,0.01,
    0.60,0.61,0.64,0.63,0.59,0.58,0.54,0.50,0.55,0.53,
    0.51,0.51,0.49,0.52,0.54,0.57,0.64,0.47,0.48,0.47,
    0.46,0.42,0.39,0.41,0.42,0.42,0.39,0.37,0.35,0.35,
    0.36,0.37,0.32,0.32,0.30,0.29,0.26,0.27,0.31,0.29,
    0.28,0.26,0.24,0.21,0.22,0.17,0.15,0.15,0.11,0.12,
    0.09,0.07,0.08,0.07,0.06,0.06,0.04,0.02,0.03,0.02,
    0.59,0.63,0.58,0.59,0.57,0.55,0.55,0.53,0.54,0.52,
    0.53,0.50,0.49,0.47,0.53,0.60,0.56,0.61,0.61,0.64,
    0.53,0.51,0.50,0.47,0.41,0.39,0.37,0.40,0.39,0.40,
    0.37,0.34,0.38,0.36,0.35,0.33,0.29,0.30,0.31,0.30,
    0.27,0.28,0.26,0.27,0.25,0.26,0.25,0.23,0.21,0.19,
    0.20,0.18,0.15,0.17,0.15,0.15,0.13,0.11,0.10,0.09,
    0.09,0.08,0.12,0.12,0.12,0.10,0.09,0.09,0.09,0.13,
    0.09,0.06,0.04,0.06,0.05,0.03,0.03,0.00,0.02,0.02,
    # bottom-left block
    0.62,0.62,0.60,0.56,0.58,0.55,0.55,0.54,0.63,0.62,
    0.64,0.60,0.51,0.53,0.54,0.52,0.63,0.62,0.57,0.52,
    0.58,0.56,0.51,0.49,0.47,0.47,0.62,0.58,0.60,0.60,
    0.57,0.57,0.51,0.48,0.47,0.49,0.48,0.45,0.45,0.43,
    0.41,0.41,0.40,0.42,0.42,0.43,0.41,0.38,0.38,0.38,
    0.51,0.50,0.51,0.54,0.47,0.60,0.57,0.58,0.58,0.62,
    0.62,0.52,0.50,0.36,0.37,0.33,0.31,0.28,0.34,0.32,
    0.31,0.31,0.32,0.33,0.30,0.28,0.26,0.26,0.26,0.27,
    0.28,0.32,0.30,0.28,0.44,0.38,0.37,0.41,0.44,0.38,
    0.44,0.40,0.48,0.45,0.46,0.41,0.37,0.48,0.48,0.45,
    0.46,0.44,0.42,0.42,0.43,0.41,0.47,0.47,0.32,0.36,
    0.23,0.22,0.24,0.23,0.20,0.17,0.16,0.14,0.12,0.00,
]

# posterior draws (alpha, b): outline points, the thin tail, then the dense core row by row
posterior_alpha = [
    -9.90,-9.59,-9.61,-9.74,-9.41,-9.35,-9.13,-8.69,-7.97,-7.79,
    -10.00,-8.45,-8.93,-8.20,-8.03,-7.57,-7.16,-7.46,-7.72,-7.19,
    -7.02,-6.82,-6.59,-6.69,-6.87,-7.09,-5.80,-6.60,-6.12,-5.68,
    -5.57,-5.29,-4.98,-5.37,-5.22,-5.09,-4.71,-4.85,-5.06,-4.45,
    -4.17,-4.01,-4.06,-3.70,-3.62,-3.57,-3.84,-3.75,-3.62,-3.95,
    -3.62,-3.51,-3.84,-3.71,-3.97,-4.17,-4.41,-4.54,-4.34,-4.17,
    -4.45,-4.65,-4.82,-4.76,-4.89,-4.71,-5.04,-5.24,-5.46,-5.39,
    -5.15,-4.98,-5.46,-5.20,-5.64,-5.77,-5.64,-5.68,
    -3.51,-3.31,-3.27,-3.34,-3.49,-3.18,-3.09,-3.03,-3.14,-2.90,
    -2.79,-2.74,-2.78,-3.15,-2.72,-2.55,-2.47,-2.04,-2.35,-2.23,
    -1.76,-3.01,-3.17,-2.72,-3.34,-3.49,-3.48,
    # b ~ 0.006
    -9.97,-9.85,-9.74,-9.60,-9.49,-9.34,-9.22,-9.09,-8.95,-8.83,
    -8.69,-8.58,-8.44,-8.30,-8.19,-8.05,-7.91,-7.80,-7.65,-7.54,
    -7.41,-7.26,-7.15,-7.00,-6.89,-6.74,-6.63,-6.48,-6.37,-6.22,
    -6.11,-5.96,-5.85,-5.70,-5.59,-5.44,-5.33,
    -5.12,-4.93,-4.71,-4.52,-4.28,-3.95,-3.72,
    # b ~ 0.022
    -9.93,-9.80,-9.66,-9.55,-9.40,-9.29,-9.14,-9.03,-8.88,-8.77,
    -8.62,-8.51,-8.36,-8.25,-8.10,-7.99,-7.84,-7.73,-7.58,-7.47,
    -7.32,-7.21,-7.06,-6.95,-6.80,-6.69,-6.54,-6.43,-6.28,-6.17,
    -6.02,-5.91,-5.76,-5.65,-5.50,-5.39,-5.24,
    -5.05,-4.84,-4.62,-4.40,-4.12,-3.88,
    # b ~ 0.038
    -9.97,-9.85,-9.74,-9.60,-9.49,-9.34,-9.22,-9.09,-8.95,-8.83,
    -8.69,-8.58,-8.44,-8.30,-8.19,-8.05,-7.91,-7.80,-7.65,-7.54,
    -7.41,-7.26,-7.15,-7.00,-6.89,-6.74,-6.63,-6.48,-6.37,-6.22,
    -6.11,-5.96,-5.85,-5.70,-5.59,-5.44,-5.33,
    -5.10,-4.88,-4.66,-4.45,-4.20,-3.98,-3.66,
    # b ~ 0.054
    -9.93,-9.80,-9.66,-9.55,-9.40,-9.29,-9.14,-9.03,-8.88,-8.77,
    -8.62,-8.51,-8.36,-8.25,-8.10,-7.99,-7.84,-7.73,-7.58,-7.47,
    -7.32,-7.21,-7.06,-6.95,-6.80,-6.69,-6.54,-6.43,-6.28,-6.17,
    -6.02,-5.91,-5.76,-5.65,-5.50,-5.39,-5.24,
    -5.02,-4.80,-4.55,-4.31,-4.05,
    # b ~ 0.070
    -9.97,-9.85,-9.74,-9.60,-9.49,-9.34,-9.22,-9.09,-8.95,-8.83,
    -8.69,-8.58,-8.44,-8.30,-8.19,-8.05,-7.91,-7.80,-7.65,-7.54,
    -7.41,-7.26,-7.15,-7.00,-6.89,-6.74,-6.63,-6.48,-6.37,-6.22,
    -6.11,-5.96,-5.85,-5.70,-5.59,-5.44,-5.33,
    -5.08,-4.86,-4.64,-4.42,-4.16,-3.90,
    # b ~ 0.086
    -9.93,-9.80,-9.66,-9.55,-9.40,-9.29,-9.14,-9.03,-8.88,-8.77,
    -8.62,-8.51,-8.36,-8.25,-8.10,-7.99,-7.84,-7.73,-7.58,-7.47,
    -7.32,-7.21,-7.06,-6.95,-6.80,-6.69,-6.54,-6.43,-6.28,-6.17,
    -6.02,-5.91,-5.76,-5.65,-5.50,-5.39,-5.24,
    -5.15,-4.95,-4.72,-4.48,-4.25,
    # b ~ 0.102
    -9.97,-9.85,-9.74,-9.60,-9.49,-9.34,-9.22,-9.09,-8.95,-8.83,
    -8.69,-8.58,-8.44,-8.30,-8.19,-8.05,-7.91,-7.80,-7.65,-7.54,
    -7.41,-7.26,-7.15,-7.00,-6.89,-6.74,-6.63,-6.48,-6.37,-6.22,
    -6.11,-5.96,-5.85,-5.70,-5.59,-5.44,-5.33,
    -5.04,-4.82,-4.58,-4.36,-4.10,
    # b ~ 0.118
    -9.93,-9.80,-9.66,-9.55,-9.40,-9.29,-9.14,-9.03,-8.88,-8.77,
    -8.62,-8.51,-8.36,-8.25,-8.10,-7.99,-7.84,-7.73,-7.58,-7.47,
    -7.32,-7.21,-7.06,-6.95,-6.80,-6.69,-6.54,-6.43,-6.28,-6.17,
    -6.02,-5.91,-5.76,-5.65,-5.50,-5.39,-5.24,
    -5.11,-4.90,-4.68,-4.47,
    # b ~ 0.134
    -9.97,-9.85,-9.74,-9.60,-9.49,-9.34,-9.22,-9.09,-8.95,-8.83,
    -8.69,-8.58,-8.44,-8.30,-8.19,-8.05,-7.91,-7.80,-7.65,-7.54,
    -7.41,-7.26,-7.15,-7.00,-6.89,-6.74,-6.63,-6.48,-6.37,-6.22,
    -6.11,-5.96,-5.85,-5.70,-5.59,-5.44,-5.33,
    -5.06,-4.85,-4.60,-4.38,
    # b ~ 0.150
    -9.93,-9.80,-9.66,-9.55,-9.40,-9.29,-9.14,-9.03,-8.88,-8.77,
    -8.62,-8.51,-8.36,-8.25,-8.10,-7.99,-7.84,-7.73,-7.58,-7.47,
    -7.32,-7.21,-7.06,-6.95,-6.80,-6.69,-6.54,-6.43,-6.28,-6.17,
    -6.02,-5.91,-5.76,-5.65,
    -5.42,-5.20,-4.98,-4.75,
    # b ~ 0.166
    -9.97,-9.85,-9.74,-9.60,-9.49,-9.34,-9.22,-9.09,-8.95,-8.83,
    -8.69,-8.58,-8.44,-8.30,-8.19,-8.05,-7.91,-7.80,-7.65,-7.54,
    -7.41,-7.26,-7.15,-7.00,-6.89,-6.74,-6.63,-6.48,-6.37,-6.22,
    -6.11,-5.96,-5.85,-5.70,-5.59,
    -5.40,-5.18,-4.95,-4.80,
    # b ~ 0.182
    -9.93,-9.80,-9.66,-9.55,-9.40,-9.29,-9.14,-9.03,-8.88,-8.77,
    -8.62,-8.51,-8.36,-8.25,-8.10,-7.99,-7.84,-7.73,-7.58,-7.47,
    -7.32,-7.21,-7.06,-6.95,-6.80,-6.69,-6.54,-6.43,-6.28,-6.17,
    -6.02,
    -5.85,-5.62,-5.40,-5.18,
    # b ~ 0.198
    -9.97,-9.85,-9.74,-9.60,-9.49,-9.34,-9.22,-9.09,-8.95,-8.83,
    -8.69,-8.58,-8.44,-8.30,-8.19,-8.05,-7.91,-7.80,-7.65,-7.54,
    -7.41,-7.26,-7.15,-7.00,-6.89,-6.74,-6.63,-6.48,-6.37,-6.22,
    -6.11,
    -5.92,-5.70,-5.46,
    # b ~ 0.214
    -9.93,-9.80,-9.66,-9.55,-9.40,-9.29,-9.14,-9.03,-8.88,-8.77,
    -8.62,-8.51,-8.36,-8.25,-8.10,-7.99,-7.84,-7.73,-7.58,-7.47,
    -7.32,-7.21,-7.06,-6.95,-6.80,-6.69,-6.54,
    -6.35,-6.10,-5.85,-5.60,
    # b ~ 0.230
    -9.97,-9.85,-9.74,-9.60,-9.49,-9.34,-9.22,-9.09,-8.95,-8.83,
    -8.69,-8.58,-8.44,-8.30,-8.19,-8.05,-7.91,-7.80,-7.65,-7.54,
    -7.41,-7.26,-7.15,-7.00,-6.89,-6.74,-6.63,
    -6.40,-6.15,-5.88,
    # b ~ 0.246
    -9.93,-9.80,-9.66,-9.55,-9.40,-9.29,-9.14,-9.03,-8.88,-8.77,
    -8.62,-8.51,-8.36,-8.25,-8.10,-7.99,-7.84,-7.73,-7.58,-7.47,
    -7.32,-7.21,-7.06,-6.95,-6.80,-6.69,-6.54,
    -6.32,-6.06,-5.80,
    # b ~ 0.262
    -9.97,-9.85,-9.74,-9.60,-9.49,-9.34,-9.22,-9.09,-8.95,-8.83,
    -8.69,-8.58,-8.44,-8.30,-8.19,-8.05,-7.91,-7.80,-7.65,-7.54,
    -7.41,-7.26,-7.15,
    -6.92,-6.65,-6.38,
    # b ~ 0.278
    -9.93,-9.80,-9.66,-9.55,-9.40,-9.29,-9.14,-9.03,-8.88,-8.77,
    -8.62,-8.51,-8.36,-8.25,-8.10,-7.99,-7.84,-7.73,-7.58,-7.47,
    -7.32,-7.21,-7.06,
    -6.83,-6.56,
    # b ~ 0.294
    -9.97,-9.85,-9.74,-9.60,-9.49,-9.34,-9.22,-9.09,-8.95,-8.83,
    -8.69,-8.58,-8.44,-8.30,-8.19,-8.05,-7.91,-7.80,
    -7.58,-7.33,-7.08,-6.84,
    # b ~ 0.310
    -9.93,-9.80,-9.66,-9.55,-9.40,-9.29,-9.14,-9.03,-8.88,-8.77,
    -8.62,-8.51,-8.36,-8.25,-8.10,-7.99,-7.84,
    -7.60,-7.34,-7.05,
    # b ~ 0.326 .. 0.374
    -9.95,-9.75,-9.52,-9.33,-9.10,-8.92,-8.70,-8.48,-8.27,-8.02,-7.75,
    -9.86,-9.63,-9.42,-9.20,-9.01,-8.80,-8.58,-8.35,-8.10,
    -9.92,-9.60,-9.30,-8.98,-8.66,-8.40,
    -9.80,-9.45,-9.10,-8.75,
]
posterior_b = [
    0.433,0.410,0.407,0.395,0.392,0.394,0.392,0.386,0.375,0.366,
    0.342,0.353,0.363,0.341,0.353,0.327,0.333,0.310,0.311,0.306,
    0.296,0.301,0.300,0.287,0.260,0.275,0.261,0.245,0.243,0.228,
    0.223,0.219,0.202,0.189,0.189,0.183,0.185,0.169,0.164,0.160,
    0.163,0.162,0.136,0.130,0.120,0.105,0.081,0.064,0.066,0.027,
    0.025,0.022,0.010,0.005,0.003,0.007,0.012,0.042,0.056,0.066,
    0.100,0.115,0.130,0.091,0.061,0.022,0.007,0.017,0.002,0.047,
    0.081,0.110,0.140,0.150,0.170,0.120,0.090,0.032,
    0.11,0.09,0.08,0.08,0.07,0.06,0.06,0.07,0.05,0.10,
    0.08,0.06,0.06,0.04,0.03,0.03,0.05,0.05,0.02,0.02,
    0.03,0.02,0.01,0.01,0.02,0.03,0.005,
    # b ~ 0.006 (44)
    0.009,0.003,0.009,0.003,0.009,0.003,0.009,0.003,0.009,0.003,
    0.009,0.003,0.009,0.003,0.009,0.003,0.009,0.003,0.009,0.003,
    0.009,0.003,0.009,0.003,0.009,0.003,0.009,0.003,0.009,0.003,
    0.009,0.003,0.009,0.003,0.009,0.003,0.009,0.003,0.009,0.003,
    0.009,0.003,0.009,0.003,
    # b ~ 0.022 (43)
    0.019,0.025,0.019,0.025,0.019,0.025,0.019,0.025,0.019,0.025,
    0.019,0.025,0.019,0.025,0.019,0.025,0.019,0.025,0.019,0.025,
    0.019,0.025,0.019,0.025,0.019,0.025,0.019,0.025,0.019,0.025,
    0.019,0.025,0.019,0.025,0.019,0.025,0.019,0.025,0.019,0.025,
    0.019,0.025,0.019,
    # b ~ 0.038 (44)
    0.041,0.035,0.041,0.035,0.041,0.035,0.041,0.035,0.041,0.035,
    0.041,0.035,0.041,0.035,0.041,0.035,0.041,0.035,0.041,0.035,
    0.041,0.035,0.041,0.035,0.041,0.035,0.041,0.035,0.041,0.035,
    0.041,0.035,0.041,0.035,0.041,0.035,0.041,0.035,0.041,0.035,
    0.041,0.035,0.041,0.035,
    # b ~ 0.054 (42)
    0.051,0.057,0.051,0.057,0.051,0.057,0.051,0.057,0.051,0.057,
    0.051,0.057,0.051,0.057,0.051,0.057,0.051,0.057,0.051,0.057,
    0.051,0.057,0.051,0.057,0.051,0.057,0.051,0.057,0.051,0.057,
    0.051,0.057,0.051,0.057,0.051,0.057,0.051,0.057,0.051,0.057,
    0.051,0.057,
    # b ~ 0.070 (43)
    0.073,0.067,0.073,0.067,0.073,0.067,0.073,0.067,0.073,0.067,
    0.073,0.067,0.073,0.067,0.073,0.067,0.073,0.067,0.073,0.067,
    0.073,0.067,0.073,0.067,0.073,0.067,0.073,0.067,0.073,0.067,
    0.073,0.067,0.073,0.067,0.073,0.067,0.073,0.067,0.073,0.067,
    0.073,0.067,0.073,
    # b ~ 0.086 (42)
    0.083,0.089,0.083,0.089,0.083,0.089,0.083,0.089,0.083,0.089,
    0.083,0.089,0.083,0.089,0.083,0.089,0.083,0.089,0.083,0.089,
    0.083,0.089,0.083,0.089,0.083,0.089,0.083,0.089,0.083,0.089,
    0.083,0.089,0.083,0.089,0.083,0.089,0.083,0.089,0.083,0.089,
    0.083,0.089,
    # b ~ 0.102 (42)
    0.105,0.099,0.105,0.099,0.105,0.099,0.105,0.099,0.105,0.099,
    0.105,0.099,0.105,0.099,0.105,0.099,0.105,0.099,0.105,0.099,
    0.105,0.099,0.105,0.099,0.105,0.099,0.105,0.099,0.105,0.099,
    0.105,0.099,0.105,0.099,0.105,0.099,0.105,0.099,0.105,0.099,
    0.105,0.099,
    # b ~ 0.118 (41)
    0.115,0.121,0.115,0.121,0.115,0.121,0.115,0.121,0.115,0.121,
    0.115,0.121,0.115,0.121,0.115,0.121,0.115,0.121,0.115,0.121,
    0.115,0.121,0.115,0.121,0.115,0.121,0.115,0.121,0.115,0.121,
    0.115,0.121,0.115,0.121,0.115,0.121,0.115,0.121,0.115,0.121,
    0.115,
    # b ~ 0.134 (41)
    0.137,0.131,0.137,0.131,0.137,0.131,0.137,0.131,0.137,0.131,
    0.137,0.131,0.137,0.131,0.137,0.131,0.137,0.131,0.137,0.131,
    0.137,0.131,0.137,0.131,0.137,0.131,0.137,0.131,0.137,0.131,
    0.137,0.131,0.137,0.131,0.137,0.131,0.137,0.131,0.137,0.131,
    0.137,
    # b ~ 0.150 (38)
    0.147,0.153,0.147,0.153,0.147,0.153,0.147,0.153,0.147,0.153,
    0.147,0.153,0.147,0.153,0.147,0.153,0.147,0.153,0.147,0.153,
    0.147,0.153,0.147,0.153,0.147,0.153,0.147,0.153,0.147,0.153,
    0.147,0.153,0.147,0.153,0.147,0.153,0.147,0.153,
    # b ~ 0.166 (39)
    0.169,0.163,0.169,0.163,0.169,0.163,0.169,0.163,0.169,0.163,
    0.169,0.163,0.169,0.163,0.169,0.163,0.169,0.163,0.169,0.163,
    0.169,0.163,0.169,0.163,0.169,0.163,0.169,0.163,0.169,0.163,
    0.169,0.163,0.169,0.163,0.169,0.163,0.169,0.163,0.169,
    # b ~ 0.182 (35)
    0.179,0.185,0.179,0.185,0.179,0.185,0.179,0.185,0.179,0.185,
    0.179,0.185,0.179,0.185,0.179,0.185,0.179,0.185,0.179,0.185,
    0.179,0.185,0.179,0.185,0.179,0.185,0.179,0.185,0.179,0.185,
    0.179,0.185,0.179,0.185,0.179,
    # b ~ 0.198 (34)
    0.201,0.195,0.201,0.195,0.201,0.195,0.201,0.195,0.201,0.195,
    0.201,0.195,0.201,0.195,0.201,0.195,0.201,0.195,0.201,0.195,
    0.201,0.195,0.201,0.195,0.201,0.195,0.201,0.195,0.201,0.195,
    0.201,0.195,0.201,0.195,
    # b ~ 0.214 (31)
    0.211,0.217,0.211,0.217,0.211,0.217,0.211,0.217,0.211,0.217,
    0.211,0.217,0.211,0.217,0.211,0.217,0.211,0.217,0.211,0.217,
    0.211,0.217,0.211,0.217,0.211,0.217,0.211,0.217,0.211,0.217,
    0.211,
    # b ~ 0.230 (30)
    0.233,0.227,0.233,0.227,0.233,0.227,0.233,0.227,0.233,0.227,
    0.233,0.227,0.233,0.227,0.233,0.227,0.233,0.227,0.233,0.227,
    0.233,0.227,0.233,0.227,0.233,0.227,0.233,0.227,0.233,0.227,
    # b ~ 0.246 (30)
    0.243,0.249,0.243,0.249,0.243,0.249,0.243,0.249,0.243,0.249,
    0.243,0.249,0.243,0.249,0.243,0.249,0.243,0.249,0.243,0.249,
    0.243,0.249,0.243,0.249,0.243,0.249,0.243,0.249,0.243,0.249,
    # b ~ 0.262 (26)
    0.265,0.259,0.265,0.259,0.265,0.259,0.265,0.259,0.265,0.259,
    0.265,0.259,0.265,0.259,0.265,0.259,0.265,0.259,0.265,0.259,
    0.265,0.259,0.265,0.259,0.265,0.259,
    # b ~ 0.278 (25)
    0.275,0.281,0.275,0.281,0.275,0.281,0.275,0.281,0.275,0.281,
    0.275,0.281,0.275,0.281,0.275,0.281,0.275,0.281,0.275,0.281,
    0.275,0.281,0.275,0.281,0.275,
    # b ~ 0.294 (22)
    0.297,0.291,0.297,0.291,0.297,0.291,0.297,0.291,0.297,0.291,
    0.297,0.291,0.297,0.291,0.297,0.291,0.297,0.291,0.297,0.291,
    0.297,0.291,
    # b ~ 0.310 (20)
    0.307,0.313,0.307,0.313,0.307,0.313,0.307,0.313,0.307,0.313,
    0.307,0.313,0.307,0.313,0.307,0.313,0.307,0.313,0.307,0.313,
    # b ~ 0.326 .. 0.374
    0.329,0.323,0.329,0.323,0.329,0.323,0.329,0.323,0.329,0.323,0.329,
    0.339,0.345,0.339,0.345,0.339,0.345,0.339,0.345,0.339,
    0.361,0.355,0.361,0.355,0.361,0.355,
    0.371,0.377,0.371,0.377,
]

alpha_ref = -4.33   # vertical dashed line
b_ref = 0.178       # horizontal dashed line

x_ticks = [-10, -5, 0, 5, 10]
x_tick_labels = ["-10", "-5", "0", "5", "10"]
y_ticks = [0.0, 0.5, 1.0, 1.5, 2.0]
y_tick_labels = ["0.0", "0.5", "1.0", "1.5", "2.0"]
groups = ["posterior", "prior"]

colors = {"posterior": "#C00000", "prior": "#4169E1"}
opacity = {"posterior": 0.6, "prior": 0.5}
point_size = 21

n_prior = min(len(prior_alpha), len(prior_b))
n_post = min(len(posterior_alpha), len(posterior_b))
df = pd.DataFrame({
    "alpha": prior_alpha[:n_prior] + posterior_alpha[:n_post],
    "b": prior_b[:n_prior] + posterior_b[:n_post],
    "sample": ["prior"] * n_prior + ["posterior"] * n_post,
})

sns.set_theme(style="darkgrid", rc={"axes.facecolor": "#E5E5E5", "grid.color": "white"})
plt.rcParams["font.family"] = ["Liberation Sans", "DejaVu Sans"]
plt.rcParams["axes.unicode_minus"] = False

fig = plt.figure(figsize=(7, 7), dpi=300)
ax = fig.add_axes([0.1548, 0.1259, 0.8212, 0.7117])

# prior first, posterior on top
for name in ["prior", "posterior"]:
    sns.scatterplot(
        data=df[df["sample"] == name],
        x="alpha", y="b",
        color=colors[name],
        alpha=opacity[name],
        s=point_size,
        edgecolor=colors[name],
        linewidth=0.7,
        legend=False,
        ax=ax,
    )

ax.axvline(alpha_ref, color="black", linewidth=1.35, linestyle=(0, (5, 4.8)), zorder=3)
ax.axhline(b_ref, color="black", linewidth=1.35, linestyle=(0, (5, 4.8)), zorder=3)

ax.set_xlim(-10.99, 10.99)
ax.set_ylim(-0.099, 2.099)
ax.set_xticks(x_ticks)
ax.set_xticklabels(x_tick_labels)
ax.set_yticks(y_ticks)
ax.set_yticklabels(y_tick_labels)
ax.xaxis.set_minor_locator(MultipleLocator(2.5))
ax.yaxis.set_minor_locator(MultipleLocator(0.25))
ax.grid(True, which="major", color="white", linewidth=2.4)
ax.grid(True, which="minor", color="white", linewidth=1.15)
ax.set_axisbelow(True)
for spine in ax.spines.values():
    spine.set_visible(False)

ax.tick_params(axis="both", which="major", direction="out", length=6, width=2.4,
               color="#333333", labelsize=19.2, labelcolor="#4D4D4D", pad=5.5)
ax.tick_params(axis="both", which="minor", length=0)

ax.set_xlabel("α", fontsize=24, color="black", family=["Liberation Serif", "DejaVu Serif"])
ax.xaxis.set_label_coords(0.5, -0.115)
ax.xaxis.label.set_verticalalignment("center")
ax.set_ylabel("b", fontsize=24, color="black")
ax.yaxis.set_label_coords(-0.139, 0.5)
ax.yaxis.label.set_verticalalignment("center")
ax.yaxis.label.set_horizontalalignment("center")

# legend: grey key squares with a dot, like the reference
key_face = "#F0F0F0"
handles = []
for name in groups:
    dot = Line2D([], [], linestyle="", marker="o", markersize=point_size ** 0.5,
                 markerfacecolor=colors[name], markeredgecolor=colors[name],
                 markeredgewidth=0.7, alpha=opacity[name])
    handles.append((Patch(facecolor=key_face, edgecolor="none"), dot))
fig.legend(handles, groups, loc="center", bbox_to_anchor=(0.578, 0.935), ncol=2,
           frameon=False, fontsize=19.2, handlelength=0.78, handleheight=0.81,
           handletextpad=0.7, columnspacing=0.7,
           handler_map={tuple: HandlerTuple(ndivide=1, pad=0)})

fig.savefig("out.png", dpi=300)
